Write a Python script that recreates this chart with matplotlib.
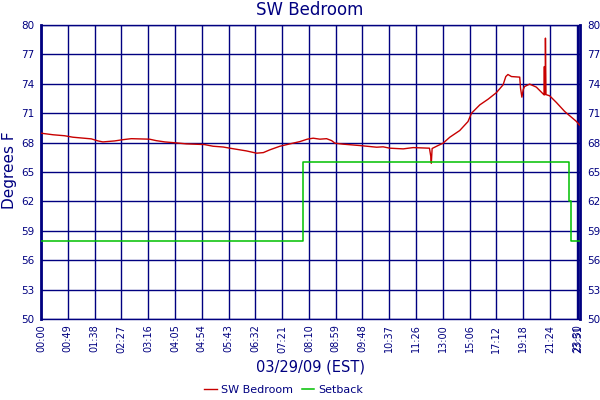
import matplotlib
matplotlib.use("Agg")
import matplotlib.pyplot as plt

# ---- data ----
tick_labels = ["00:00", "00:49", "01:38", "02:27", "03:16", "04:05", "04:54",
               "05:43", "06:32", "07:21", "08:10", "08:59", "09:48", "10:37",
               "11:26", "13:00", "15:06", "17:12", "19:18", "21:24", "23:30",
               "23:51"]
tick_pos = list(range(21)) + [20.05]

temp_idx = [0.0, 0.45, 0.88, 1.19, 1.88, 2.13, 2.31, 2.75, 3.06, 3.37, 4.05,
            4.3, 4.62, 5.05, 5.42, 6.1, 6.42, 6.8, 7.05, 7.67, 8.05, 8.3,
            8.54, 8.92, 9.29, 9.66, 9.94, 10.16, 10.41, 10.66, 10.85, 10.97,
            11.28, 11.9, 12.53, 12.77, 13.02, 13.52, 13.89, 14.5, 14.55,
            14.57, 14.6, 14.82, 15.01, 15.26, 15.63, 15.94, 16.07, 16.38,
            16.69, 17.0, 17.25, 17.35, 17.43, 17.56, 17.87, 17.9, 17.95,
            18.0, 18.05, 18.24, 18.49, 18.78, 18.79, 18.8, 18.82, 18.83,
            18.85, 18.99, 19.24, 19.55, 19.99, 20.1]
temp_vals = [68.96, 68.8, 68.7, 68.55, 68.38, 68.17, 68.07, 68.17, 68.3,
             68.4, 68.35, 68.2, 68.07, 67.97, 67.87, 67.8, 67.63, 67.55,
             67.43, 67.15, 66.92, 66.98, 67.26, 67.63, 67.87, 68.1, 68.35,
             68.45, 68.35, 68.4, 68.2, 67.94, 67.84, 67.7, 67.53, 67.57,
             67.43, 67.36, 67.49, 67.43, 66.6, 65.9, 67.4, 67.7, 67.94, 68.55,
             69.23, 70.15, 71.0, 71.85, 72.43, 73.1, 73.9, 74.74, 74.95,
             74.74, 74.68, 73.56, 72.64, 73.4, 73.72, 73.97, 73.66, 72.87,
             75.76, 72.9, 72.9, 78.66, 72.9, 72.77, 72.09, 71.17, 70.15, 69.8]

setback_idx = [0.0, 9.79, 19.72, 19.77, 20.12]
setback_vals = [58, 66, 62, 58, 58]

y_ticks = [50, 53, 56, 59, 62, 65, 68, 71, 74, 77, 80]

navy = "#000080"
red = "#c80000"
green = "#00c000"

fig = plt.figure(figsize=(6, 4), dpi=100)
ax = fig.add_axes([41 / 600, 1 - 319 / 400, (580 - 41) / 600, (319 - 25) / 400])

ax.plot(temp_idx, temp_vals, color=red, lw=1.0, label="SW Bedroom", zorder=3)
ax.plot(setback_idx, setback_vals, color=green, lw=1.1, label="Setback",
        drawstyle="steps-post", zorder=3)

ax.set_xlim(0, 20.12)
ax.set_ylim(50, 80)
ax.set_xticks(tick_pos)
ax.set_xticklabels(tick_labels, rotation=90, fontsize=7, color=navy)
ax.set_yticks(y_ticks)
ax.set_yticklabels([str(v) for v in y_ticks], fontsize=7.5, color=navy)
ax.tick_params(axis="both", length=0)
ax.tick_params(axis="x", pad=4)
ax.tick_params(axis="y", pad=5, labelright=True)
ax.grid(True, color=navy, lw=1.0)
ax.set_axisbelow(True)

for side in ["top", "bottom"]:
    ax.spines[side].set_color(navy)
    ax.spines[side].set_linewidth(1.0)
for side in ["left", "right"]:
    ax.spines[side].set_color(navy)
    ax.spines[side].set_linewidth(2.0)

fig.text(310 / 600, 1 - 10 / 400, "SW Bedroom", ha="center", va="center",
         fontsize=12, color=navy)
fig.text(310 / 600, 1 - 367 / 400, "03/29/09 (EST)", ha="center", va="center",
         fontsize=10.5, color=navy)
fig.text(10 / 600, 1 - 170 / 400, "Degrees F", ha="center", va="center",
         rotation=90, fontsize=11, color=navy)

leg = fig.legend(loc="center", bbox_to_anchor=(284 / 600, 10 / 400), ncol=2,
                 frameon=False, fontsize=8, handlelength=1.1,
                 handletextpad=0.4, columnspacing=0.8)
for t in leg.get_texts():
    t.set_color(navy)

fig.savefig("out.png", dpi=100)
